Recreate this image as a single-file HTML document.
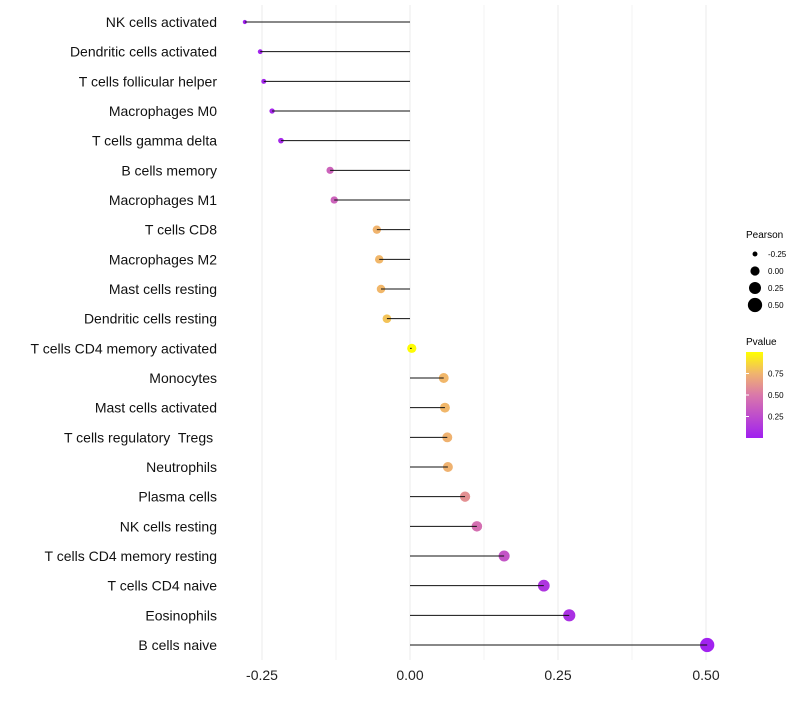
<!DOCTYPE html>
<html><head><meta charset="utf-8"><style>
body{margin:0;background:#fff;font-family:"Liberation Sans",sans-serif}
</style></head><body>
<svg id="chart" width="800" height="700" xmlns="http://www.w3.org/2000/svg" font-family="Liberation Sans, sans-serif">
<defs><linearGradient id="pg" x1="0" y1="1" x2="0" y2="0">
<stop offset="0" stop-color="#a020f0"/><stop offset="0.5" stop-color="#da78aa"/><stop offset="0.75" stop-color="#f0b46e"/><stop offset="1" stop-color="#ffff00"/></linearGradient></defs>
<g id="grid"></g><g id="dots"></g><g id="marks"></g><g id="labels"></g>
<g id="legend">
<text x="746" y="238" font-size="10">Pearson</text>
<g id="sizeLeg"></g>
<text x="746" y="345" font-size="10">Pvalue</text>
<rect x="746" y="352" width="17" height="86" fill="url(#pg)"/>
<g id="colorLeg"></g>
</g>
</svg>
<script>
const categories=["NK cells activated","Dendritic cells activated","T cells follicular helper","Macrophages M0","T cells gamma delta","B cells memory","Macrophages M1","T cells CD8","Macrophages M2","Mast cells resting","Dendritic cells resting","T cells CD4 memory activated","Monocytes","Mast cells activated","T cells regulatory  Tregs ","Neutrophils","Plasma cells","NK cells resting","T cells CD4 memory resting","T cells CD4 naive","Eosinophils","B cells naive"];
const pearson=[-0.279,-0.253,-0.247,-0.233,-0.218,-0.135,-0.128,-0.056,-0.052,-0.049,-0.039,0.003,0.057,0.059,0.063,0.064,0.093,0.113,0.159,0.226,0.269,0.502];
const pvalue=[0.01,0.02,0.03,0.04,0.05,0.38,0.38,0.75,0.76,0.76,0.8,0.99,0.76,0.76,0.74,0.74,0.6,0.45,0.3,0.12,0.09,0.01];
const xTicks=[-0.25,0,0.25,0.5];
const xTickLabels=["-0.25","0.00","0.25","0.50"];
const sizeLegVals=[-0.25,0,0.25,0.5];
const sizeLegLabels=["-0.25","0.00","0.25","0.50"];
const colorLegVals=[0.25,0.5,0.75];
const colorLegLabels=["0.25","0.50","0.75"];
const NS="http://www.w3.org/2000/svg";
const x=v=>410+v*592;
const y=i=>22+i*(623/21);
const r=v=>Math.sqrt(Math.max(21+60*v,2));
const stops=[[0,[160,32,240]],[0.5,[218,120,170]],[0.75,[240,180,110]],[1,[255,255,0]]];
function col(p){for(let i=1;i<stops.length;i++){if(p<=stops[i][0]){const [a,c1]=stops[i-1],[b,c2]=stops[i];const t=(p-a)/(b-a);return `rgb(${c1.map((c,k)=>Math.round(c+(c2[k]-c)*t)).join(',')})`;}}return 'rgb(255,255,0)';}
function mk(t,at,parent){const e=document.createElementNS(NS,t);for(const k in at)e.setAttribute(k,at[k]);document.getElementById(parent).appendChild(e);return e;}
for(let k=-2;k<=4;k++){const v=k*0.125;const l=mk('line',{x1:x(v),x2:x(v),y1:5,y2:660,stroke:'#ebebeb','stroke-width':k%2===0?1:0.6},'grid');

}
xTicks.forEach((v,i)=>{const t=mk('text',{x:x(v),y:680,'font-size':14,'text-anchor':'middle',fill:'#222'},'labels');t.textContent=xTickLabels[i];

});
categories.forEach((c,i)=>{
const t=mk('text',{x:217,y:y(i)+5,'font-size':14,'text-anchor':'end',fill:'#111','xml:space':'preserve'},'labels');t.textContent=c;t.style.whiteSpace='pre';


const d=mk('circle',{cx:x(pearson[i]),cy:y(i),r:r(pearson[i]),fill:col(pvalue[i])},'dots');


const l=mk('line',{x1:x(0),x2:x(pearson[i]),y1:y(i),y2:y(i),stroke:'#111','stroke-width':1},'marks');


});
sizeLegVals.forEach((v,i)=>{const cy=254+i*17;
const d=mk('circle',{cx:755,cy:cy,r:r(v),fill:'#000'},'sizeLeg');


const t=mk('text',{x:768,y:cy+3,'font-size':8},'sizeLeg');t.textContent=sizeLegLabels[i];

});
colorLegVals.forEach((v,i)=>{const cy=438-v*86;
const l=mk('line',{x1:746,x2:749,y1:cy,y2:cy,stroke:'#fff'},'colorLeg');


const t=mk('text',{x:768,y:cy+3,'font-size':8},'colorLeg');t.textContent=colorLegLabels[i];

});
</script>
</body></html>
